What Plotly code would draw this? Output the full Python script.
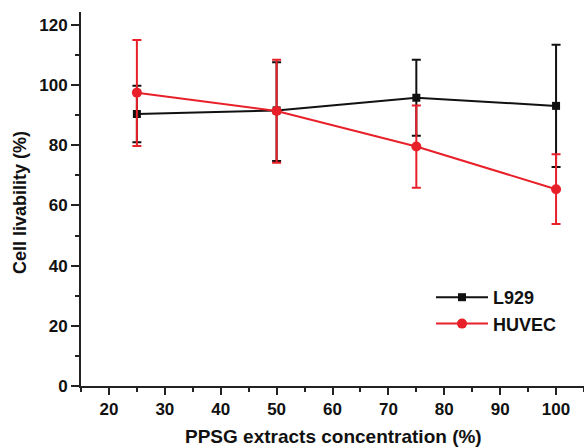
import plotly.graph_objects as go

conc = [25, 50, 75, 100]
l929_mean = [90.4, 91.6, 95.8, 93.1]
l929_upper = [99.8, 107.6, 108.4, 113.4]
l929_lower = [81.0, 74.8, 83.2, 72.8]
huvec_mean = [97.5, 91.4, 79.6, 65.4]
huvec_upper = [115.0, 108.4, 93.2, 77.0]
huvec_lower = [79.8, 74.2, 65.9, 53.8]

x_tickvals = [20, 30, 40, 50, 60, 70, 80, 90, 100]
y_tickvals = [0, 20, 40, 60, 80, 100, 120]

def errs(mean, upper, lower):
    return ([u - m for u, m in zip(upper, mean)], [m - l for m, l in zip(mean, lower)])

fig = go.Figure()
for name, mean, up, lo, color, sym, size in [
    ("L929", l929_mean, l929_upper, l929_lower, "#111111", "square", 8),
    ("HUVEC", huvec_mean, huvec_upper, huvec_lower, "#e8202a", "circle", 10),
]:
    plus, minus = errs(mean, up, lo)
    fig.add_trace(go.Scatter(
        x=conc, y=mean, name=name, mode="lines+markers",
        line=dict(color=color, width=2),
        marker=dict(symbol=sym, size=size, color=color),
        error_y=dict(type="data", symmetric=False, array=plus, arrayminus=minus,
                     color=color, thickness=2, width=4.5),
    ))

FONT = "Liberation Sans, Arial, sans-serif"
L, T, B = 81, 12, 62
PW, PH = 584 - L, 448 - T - B
fig.update_layout(
    width=584, height=448,
    margin=dict(l=L, r=0, t=T, b=B, autoexpand=False),
    paper_bgcolor="white", plot_bgcolor="white",
    font=dict(family=FONT, color="#111111"),
    showlegend=True,
    legend=dict(x=(431 - L) / PW, y=(386 - 279) / PH, xanchor="left", yanchor="top",
                bgcolor="rgba(0,0,0,0)",
                font=dict(size=18, family=FONT, weight="bold"),
                itemwidth=52, tracegroupgap=0),
    annotations=[
        dict(text="PPSG extracts concentration (%)", xref="paper", yref="paper",
             x=(333 - L) / PW, y=-(437 - 386) / PH, xanchor="center", yanchor="middle",
             showarrow=False, font=dict(size=19, family=FONT, weight="bold")),
        dict(text="Cell livability (%)", xref="paper", yref="paper",
             x=-(L - 20) / PW, y=(386 - 203) / PH, xanchor="center", yanchor="middle",
             textangle=-90, showarrow=False, font=dict(size=18, family=FONT, weight="bold")),
    ],
)
fig.update_xaxes(
    range=[15, 105], showline=True, linecolor="#222222", linewidth=2,
    tickmode="array", tickvals=x_tickvals,
    ticks="outside", ticklen=7, tickwidth=2, tickcolor="#222222",
    minor=dict(dtick=5, tick0=0, ticks="outside", ticklen=4, tickwidth=1.5, tickcolor="#222222"),
    tickfont=dict(size=17, weight="bold"),
    showgrid=False, zeroline=False, automargin=False,
)
fig.update_yaxes(
    range=[0, 124.3], showline=True, linecolor="#222222", linewidth=2,
    tickmode="array", tickvals=y_tickvals,
    ticks="outside", ticklen=8, tickwidth=2, tickcolor="#222222",
    minor=dict(dtick=10, tick0=0, ticks="outside", ticklen=4, tickwidth=1.5, tickcolor="#222222"),
    tickfont=dict(size=17, weight="bold"),
    showgrid=False, zeroline=False, automargin=False,
)

fig.write_html("out.html", config={"displayModeBar": False},
               post_script="document.body.style.margin='0px';")
